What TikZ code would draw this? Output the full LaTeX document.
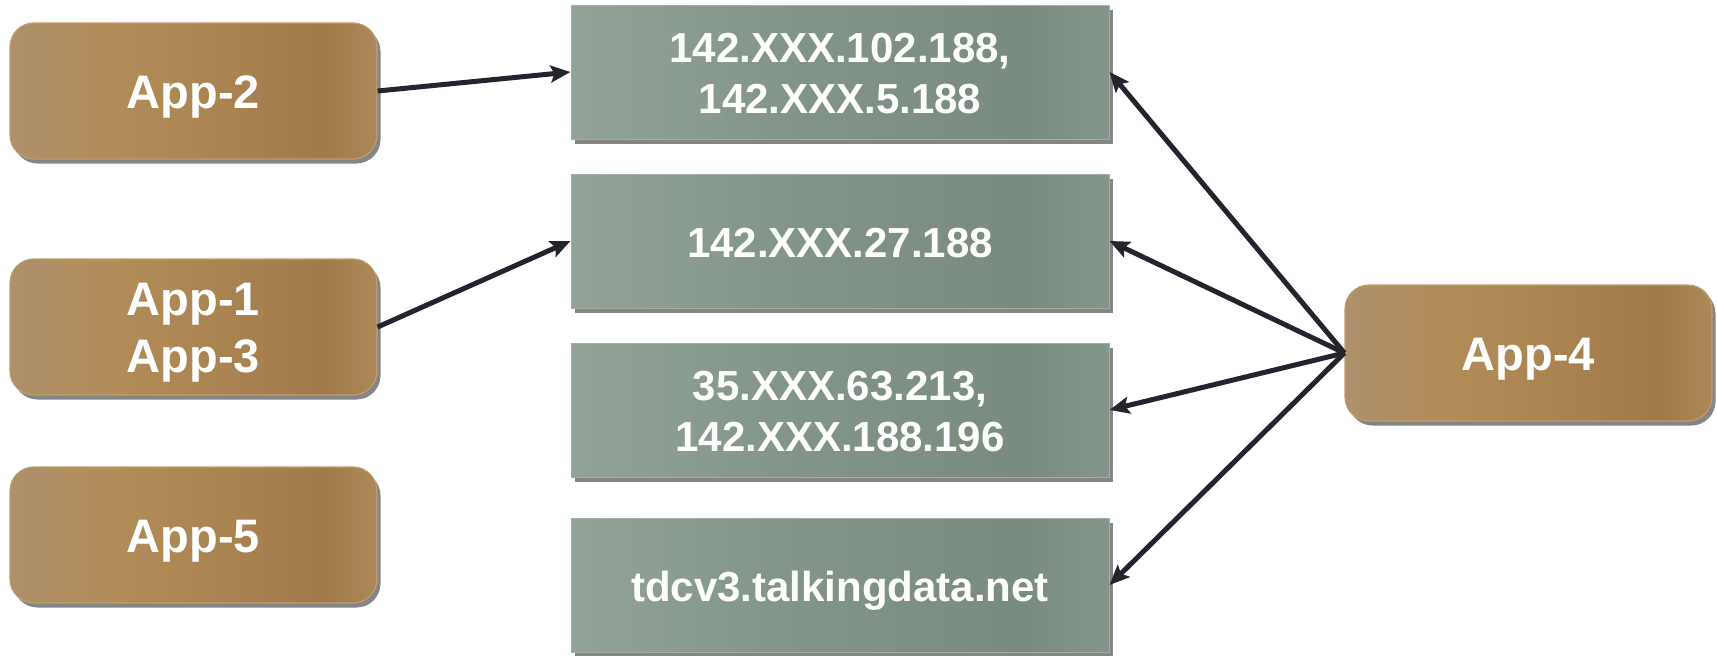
\documentclass[tikz,border=0pt]{standalone}
\usepackage{fontspec}
\setmainfont{Liberation Sans}
\usetikzlibrary{shadows,arrows.meta}

% box palettes
\definecolor{appA}{RGB}{174,144,108}
\definecolor{appB}{RGB}{178,140,88}
\definecolor{appC}{RGB}{160,122,73}
\definecolor{appD}{RGB}{172,136,88}
\definecolor{appEdge}{RGB}{190,156,110}
\definecolor{ipA}{RGB}{146,162,151}
\definecolor{ipB}{RGB}{131,149,136}
\definecolor{ipC}{RGB}{121,139,126}
\definecolor{ipD}{RGB}{132,150,137}
\definecolor{ipEdge}{RGB}{160,176,165}
\definecolor{wire}{RGB}{36,36,46}

\pgfdeclarehorizontalshading{appshade}{100bp}{color(0bp)=(appA); color(25bp)=(appA);
  color(40bp)=(appB); color(68bp)=(appC); color(75bp)=(appD); color(100bp)=(appD)}
\pgfdeclarehorizontalshading{ipshade}{100bp}{color(0bp)=(ipA); color(25bp)=(ipA);
  color(45bp)=(ipB); color(67bp)=(ipC); color(75bp)=(ipD); color(100bp)=(ipD)}

% centred lines, set a little below the geometric middle
\newcommand\boxlines[1]{\raisebox{-6pt}[\height][\depth]{%
  \begin{tabular}{@{}c@{}}#1\end{tabular}}}

\tikzset{
  boxshadow/.style={drop shadow={shadow xshift=3.5pt, shadow yshift=-4.5pt,
    opacity=0.6, fill=black!80}},
  appbox/.style={shading=appshade, draw=appEdge, line width=1.2pt,
    rounded corners=24pt, minimum width=367pt, minimum height=136pt,
    inner sep=0pt, text=white, font=\fontsize{47}{57}\selectfont\bfseries,
    boxshadow},
  ipbox/.style={shading=ipshade, draw=ipEdge, line width=1pt,
    minimum width=538pt, minimum height=134pt, inner sep=0pt,
    text=white, font=\fontsize{42}{51}\selectfont\bfseries, boxshadow},
  link/.style={draw=wire, line width=5pt,
    -{Stealth[length=20pt, width=17pt, inset=4pt]}}
}

\begin{document}
\begin{tikzpicture}[x=1pt, y=-1pt]
\useasboundingbox (0,0) rectangle (1717,656);

% application boxes
\node[appbox] (app2)  at (193.5, 91)  {\boxlines{App-2}};
\node[appbox] (app13) at (193.5, 327) {\boxlines{App-1\\App-3}};
\node[appbox] (app5)  at (193.5, 535) {\boxlines{App-5}};
\node[appbox] (app4)  at (1528.5, 353) {\boxlines{App-4}};

% address boxes
\node[ipbox] (ip1) at (840, 72)  {\boxlines{142.XXX.102.188,\\142.XXX.5.188}};
\node[ipbox] (ip2) at (840, 241) {\boxlines{142.XXX.27.188}};
\node[ipbox] (ip3) at (840, 410) {\boxlines{35.XXX.63.213,\\142.XXX.188.196}};
\node[ipbox] (ip4) at (840, 585) {\boxlines{tdcv3.talkingdata.net}};

% connections
\draw[link] (app2.east)  -- (ip1.west);
\draw[link] (app13.east) -- (ip2.west);
\draw[link] (app4.west) -- (ip1.east);
\draw[link] (app4.west) -- (ip2.east);
\draw[link] (app4.west) -- (ip3.east);
\draw[link] (app4.west) -- (ip4.east);
\end{tikzpicture}
\end{document}
